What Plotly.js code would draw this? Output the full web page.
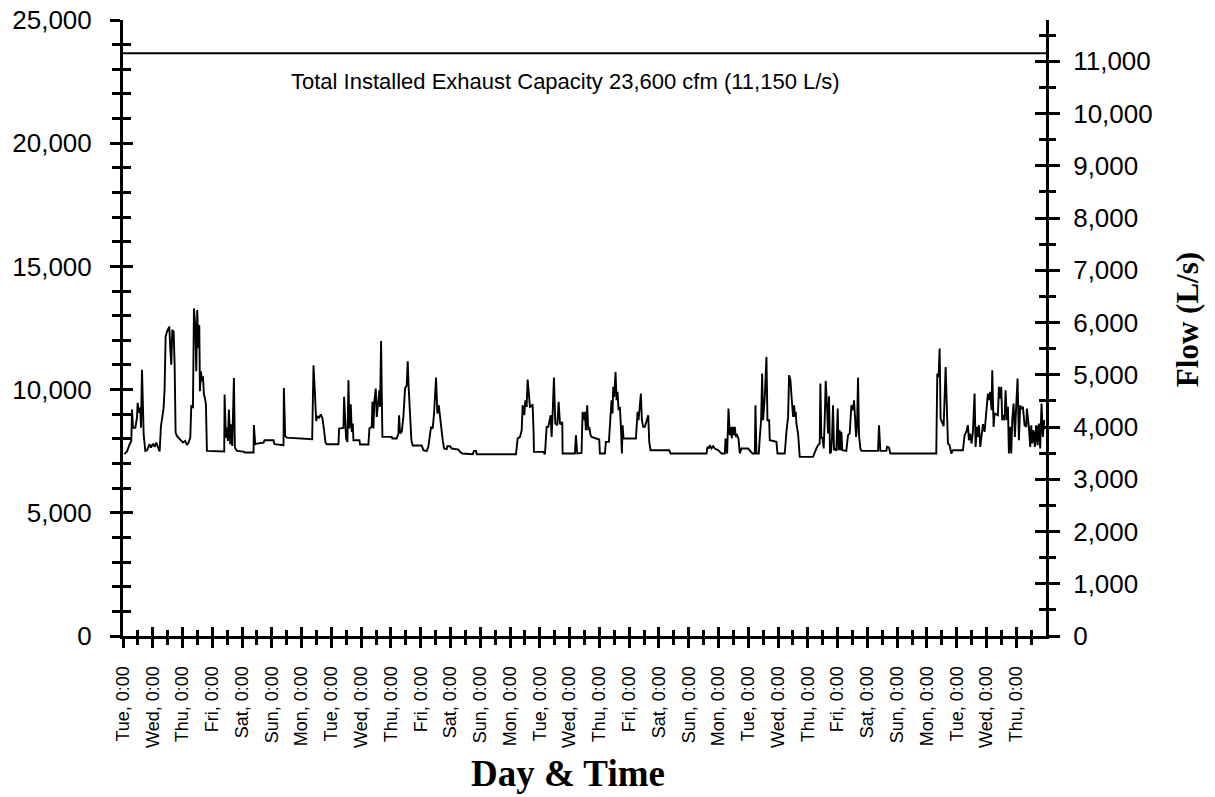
<!DOCTYPE html>
<html>
<head>
<meta charset="utf-8">
<script src="https://cdn.plot.ly/plotly-3.0.1.min.js"></script>
<style>html,body{margin:0;padding:0;background:#fff;}#chart{width:1215px;height:797px;}</style>
</head>
<body>
<div id="chart"></div>
<script>
// ---- data ----
const dayNames = ["Tue","Wed","Thu","Fri","Sat","Sun","Mon","Tue","Wed","Thu","Fri","Sat","Sun","Mon","Tue","Wed","Thu","Fri","Sat","Sun","Mon","Tue","Wed","Thu","Fri","Sat","Sun","Mon","Tue","Wed","Thu"];
const tickDays = dayNames.map((d, i) => i);
const tickLabels = dayNames.map(d => d + ", 0:00");
const halfDays = dayNames.map((d, i) => i + 0.5);

const capacityCfm = 23650;
const capacityLabel = "Total Installed Exhaust Capacity 23,600 cfm (11,150 L/s)";
const lsPerCfm = 0.4716;
const cfmRange = [0, 25000];
const dayRange = [0, 31];

// elapsed time in days since the first Tuesday 0:00
const dayOffset = [
0.045,0.134,0.224,0.28,0.302,0.336,0.414,0.47,0.492,0.537,0.582,0.604,0.638,0.694,0.749,0.805,0.895,0.94,1.007,1.063,1.119,1.174,1.23,1.275,1.331,1.365,1.398,1.432,1.477,1.555,1.588,1.622,1.655,1.7,1.734,1.767,1.812,1.868,1.924,2.013,2.092,2.148,2.204,2.26,2.293,2.349,2.383,2.427,2.461,2.494,2.528,2.562,2.584,2.617,2.651,2.685,2.718,2.752,2.785,2.819,3.4,3.412,3.456,3.49,3.523,3.557,3.602,3.635,3.669,3.725,3.758,3.826,4.05,4.083,4.385,4.396,4.441,4.497,4.72,4.754,5.056,5.089,5.391,5.403,5.447,5.503,6.353,6.398,6.443,6.488,6.532,6.588,6.644,6.7,6.756,6.801,6.846,
7.236,7.258,7.404,7.426,7.46,7.493,7.538,7.572,7.605,7.65,7.684,7.717,7.739,7.941,7.963,8.243,8.276,8.355,8.377,8.41,8.444,8.489,8.522,8.556,8.578,8.612,8.634,8.668,8.712,9.026,9.048,9.193,9.249,9.272,9.305,9.361,9.417,9.473,9.529,9.563,9.596,9.641,9.686,9.731,10.033,10.089,10.2,10.256,10.29,10.346,10.402,10.447,10.514,10.559,10.604,10.648,10.682,10.738,10.783,10.872,10.894,10.984,11.04,11.264,11.319,11.398,11.745,11.789,11.857,11.879,13.199,13.255,13.334,13.39,13.423,13.479,13.512,13.557,13.59,13.635,13.668,13.724,13.758,13.791,13.803,14.116,14.172,14.228,14.284,14.363,14.396,14.43,14.474,14.519,14.586,14.631,14.676,14.72,14.754,14.765,
15.178,15.211,15.256,15.401,15.435,15.48,15.513,15.547,15.592,15.625,15.659,15.704,15.737,15.995,16.017,16.185,16.218,16.319,16.353,16.409,16.442,16.465,16.498,16.543,16.577,16.61,16.644,16.689,16.723,16.756,16.779,16.812,17.226,17.248,17.282,17.316,17.36,17.394,17.428,17.472,17.528,17.607,17.64,17.674,17.719,18.345,18.39,19.598,19.631,19.676,19.71,19.765,19.821,19.877,19.989,20.101,20.213,20.235,20.291,20.336,20.381,20.414,20.448,20.481,20.515,20.548,20.582,20.627,20.672,20.716,20.772,20.996,21.052,21.142,21.22,21.242,21.275,21.354,21.388,21.432,21.466,21.499,21.555,21.611,21.645,21.701,21.723,21.947,21.98,22.226,22.282,22.338,22.371,22.416,22.45,22.483,22.506,22.539,22.573,22.595,22.617,22.673,22.707,22.729,
23.176,23.232,23.288,23.344,23.4,23.422,23.456,23.489,23.534,23.567,23.601,23.646,23.679,23.713,23.746,23.78,23.813,23.847,23.881,23.914,23.959,24.004,24.037,24.071,24.104,24.127,24.16,24.294,24.351,24.407,24.463,24.519,24.552,24.586,24.62,24.653,24.687,24.72,24.765,24.799,25.358,25.392,25.436,25.638,25.66,25.727,25.772,27.315,27.349,27.394,27.427,27.461,27.517,27.562,27.629,27.673,27.707,27.763,27.819,27.875,28.21,28.266,28.322,28.378,28.411,28.456,28.501,28.545,28.601,28.635,28.68,28.713,28.747,28.792,28.826,28.882,28.937,28.993,29.049,29.083,29.128,29.172,29.195,29.24,29.273,29.385,29.418,29.463,29.497,29.53,29.575,29.609,29.642,29.687,29.721,29.754,29.799,29.833,29.866,29.911,29.956,30.0,30.045,30.089,30.134,30.168,30.224,30.28,30.336,30.358,30.425,30.47,30.504,30.537,30.582,30.626,30.671,30.716,30.76,30.805,30.85,30.895,30.94
];
// exhaust flow in cfm
const flowCfm = [
7380,7486,7782,7916,9194,8454,8454,8857,9463,9059,9261,8454,10808,8185,7513,7539,7782,7647,7808,7674,7849,7647,7486,8521,8925,9261,10068,12153,12354,12556,11682,11010,12422,12354,11010,8252,8118,8050,7943,7849,7916,7755,7849,8050,9328,9288,13296,12624,10741,13229,11682,12624,9934,10741,10337,10539,9799,9665,9396,7513,7486,9799,8050,8454,7916,9194,7782,8588,7714,10471,7647,7513,7486,7445,7445,8562,7782,7808,7849,7943,7943,7782,7741,10068,8118,8050,7983,10983,9934,8723,8925,8857,8992,8830,8320,7849,7782,
7784,8420,8447,9704,8420,8014,7879,10380,8420,9407,8285,8623,7947,7947,7771,7771,8420,8488,9502,8420,9569,10042,8893,9299,9434,9975,9299,11976,8082,8082,8014,8014,8217,8961,8217,8285,8893,10042,10177,11151,10042,9163,7947,7730,7730,7541,7500,7676,8082,8488,8420,9029,10488,9029,9366,8893,8352,7947,7609,7582,7703,7703,7609,7568,7473,7406,7379,7514,7514,7379,7379,8014,8082,8352,9366,8961,9569,9299,10407,9704,9299,9326,9407,8217,7473,7473,7379,8488,8488,8961,8082,9029,10488,8623,8555,9502,8623,8596,8690,7406,
7406,8150,7406,7433,9096,8758,9096,8352,9366,8352,8488,8150,8082,7974,7406,7406,7879,7879,8758,9569,9028,10110,9704,10718,9569,9907,9164,9299,8488,7406,8555,8014,8014,8488,9096,8758,9231,9840,8758,8488,8488,8758,8961,7879,7541,7541,7406,7406,7676,7609,7744,7609,7703,7609,7541,7406,7406,8014,7406,9231,8150,8488,8014,8488,8150,8488,8082,8150,8014,7406,7609,7609,7541,7406,7406,9366,7406,7406,8082,8758,10651,8758,9704,11327,8758,8758,7947,7879,7406,7406,8285,8893,10583,10380,9772,9366,8893,9366,8893,9096,8623,8217,7406,7271,
7271,7474,7609,7744,7812,10245,8014,8082,7609,8758,10353,9299,8217,9731,7406,7474,8014,9366,7541,7609,7514,9231,7541,8352,7541,8285,7541,7514,8150,8217,9366,9164,9569,8893,8082,8488,10489,8150,7609,7514,7514,8555,7514,7514,7676,7649,7406,7406,10651,10516,11665,8826,8623,8515,10921,8488,7812,7744,7406,7541,7541,8150,8285,8555,7947,8217,7812,8285,9840,7676,8488,8082,8555,7676,8150,8596,8285,9164,9840,9569,9907,9164,10786,8488,9028,8961,10110,9637,10110,8758,8961,8758,9975,8758,9299,7406,8488,7406,8758,9434,8082,9366,10448,7947,9366,9231,9299,8555,8488,9231,8488,7676,8555,7812,8352,7676,8555,7744,8623,7609,9434,8082,8758
];

// ---- chart ----
const ink = "#000000";
const sans = "Liberation Sans, Arial, sans-serif";
const serif = "Liberation Serif, Times New Roman, serif";

const traces = [
  {x: dayOffset, y: flowCfm, type: "scatter", mode: "lines",
   line: {color: ink, width: 1.9}, xaxis: "x", yaxis: "y", hoverinfo: "x+y", showlegend: false},
  {x: dayRange, y: [capacityCfm, capacityCfm], type: "scatter", mode: "lines",
   line: {color: ink, width: 2.2}, xaxis: "x", yaxis: "y", showlegend: false, hoverinfo: "skip"},
  // helper traces so the overlay (crossing-tick) axes get drawn
  {x: [dayOffset[0]], y: [flowCfm[0]], xaxis: "x2", yaxis: "y3", mode: "markers", marker: {opacity: 0}, hoverinfo: "skip", showlegend: false},
  {x: [dayOffset[0]], y: [flowCfm[0] * lsPerCfm], xaxis: "x", yaxis: "y2", mode: "markers", marker: {opacity: 0}, hoverinfo: "skip", showlegend: false},
  {x: [dayOffset[0]], y: [flowCfm[0] * lsPerCfm], xaxis: "x", yaxis: "y4", mode: "markers", marker: {opacity: 0}, hoverinfo: "skip", showlegend: false}
];

const lsRange = [0, cfmRange[1] * lsPerCfm];
const common = {showgrid: false, zeroline: false, tickcolor: ink, tickwidth: 3, fixedrange: true};

const layout = {
  width: 1215, height: 797,
  margin: {l: 123, r: 169, t: 20, b: 161, pad: 0},
  paper_bgcolor: "#ffffff", plot_bgcolor: "#ffffff",
  showlegend: false,
  xaxis: Object.assign({}, common, {
    range: dayRange, showline: true, linecolor: ink, linewidth: 3,
    tickmode: "array", tickvals: tickDays, ticktext: tickLabels,
    ticks: "outside", ticklen: 9, tickangle: -90,
    tickfont: {family: sans, size: 18, color: ink}, ticklabelstandoff: 11,
    minor: {tickmode: "array", tickvals: halfDays, ticks: "outside", ticklen: 6, tickwidth: 3, tickcolor: ink}
  }),
  xaxis2: Object.assign({}, common, {
    range: dayRange, overlaying: "x", anchor: "y", side: "bottom", showline: false,
    tickmode: "array", tickvals: tickDays, ticks: "inside", ticklen: 9, showticklabels: false,
    minor: {tickmode: "array", tickvals: halfDays, ticks: "inside", ticklen: 6, tickwidth: 3, tickcolor: ink}
  }),
  yaxis: Object.assign({}, common, {
    range: cfmRange, showline: true, linecolor: ink, linewidth: 3,
    tickmode: "linear", tick0: 0, dtick: 5000, tickformat: ",.0f",
    ticks: "outside", ticklen: 10,
    tickfont: {family: sans, size: 26, color: ink}, ticklabelstandoff: 13,
    minor: {tickmode: "linear", tick0: 0, dtick: 1000, ticks: "outside", ticklen: 8, tickwidth: 3, tickcolor: ink}
  }),
  yaxis3: Object.assign({}, common, {
    range: cfmRange, overlaying: "y", side: "left", anchor: "x", showline: false,
    tickmode: "linear", tick0: 0, dtick: 5000, ticks: "inside", ticklen: 10, showticklabels: false,
    minor: {tickmode: "linear", tick0: 0, dtick: 1000, ticks: "inside", ticklen: 8, tickwidth: 3, tickcolor: ink}
  }),
  yaxis2: Object.assign({}, common, {
    range: lsRange, overlaying: "y", side: "right", anchor: "x", showline: true, linecolor: ink, linewidth: 3,
    tickmode: "linear", tick0: 0, dtick: 1000, tickformat: ",.0f",
    ticks: "outside", ticklen: 11,
    tickfont: {family: sans, size: 26, color: ink}, ticklabelstandoff: 8,
    minor: {tickmode: "linear", tick0: 0, dtick: 500, ticks: "outside", ticklen: 7, tickwidth: 3, tickcolor: ink}
  }),
  yaxis4: Object.assign({}, common, {
    range: lsRange, overlaying: "y", side: "right", anchor: "x", showline: false,
    tickmode: "linear", tick0: 0, dtick: 1000, ticks: "inside", ticklen: 11, showticklabels: false,
    minor: {tickmode: "linear", tick0: 0, dtick: 500, ticks: "inside", ticklen: 7, tickwidth: 3, tickcolor: ink}
  }),
  annotations: [
    {text: capacityLabel, xref: "paper", yref: "paper", x: 0.479, y: 0.9,
     xanchor: "center", yanchor: "middle", showarrow: false,
     font: {family: sans, size: 22, color: ink}},
    {text: "<b>Day & Time</b>", xref: "paper", yref: "paper", x: 0.482, y: -0.224,
     xanchor: "center", yanchor: "middle", showarrow: false,
     font: {family: serif, size: 37, color: ink}},
    {text: "<b>Flow (L/s)</b>", xref: "paper", yref: "paper", x: 1.154, y: 0.513,
     xanchor: "center", yanchor: "middle", showarrow: false, textangle: -90,
     font: {family: serif, size: 31, color: ink}}
  ]
};

Plotly.newPlot("chart", traces, layout, {displayModeBar: false, staticPlot: true});
</script>
</body>
</html>
